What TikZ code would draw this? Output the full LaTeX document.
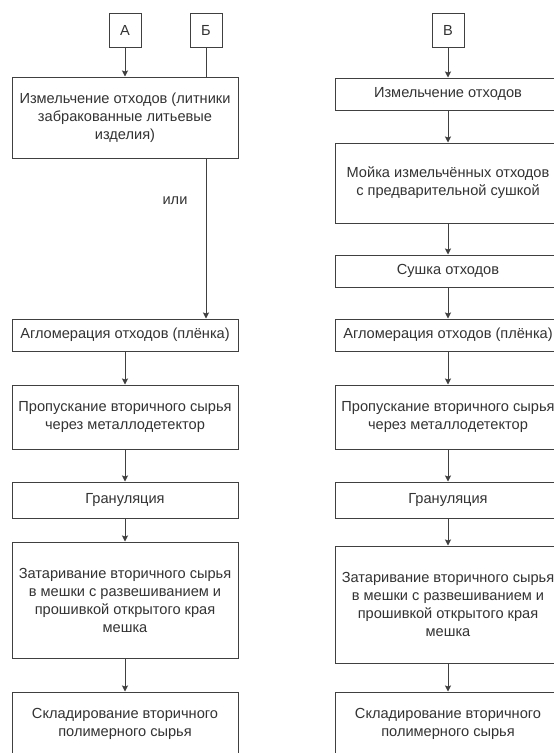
\documentclass[tikz,border=0pt]{standalone}
\usepackage{fontspec}
\setmainfont{Liberation Sans}
\usetikzlibrary{arrows.meta}
\pgfdeclarelayer{bg}
\pgfdeclarelayer{edges}
\pgfsetlayers{bg,edges,main}
\begin{document}
\begin{tikzpicture}[x=1pt,y=-1pt,
			box/.style={draw=black!75,line width=1pt,fill=white,text=black!80,align=center,minimum width=226pt,inner sep=0pt,font=\fontsize{14.6}{18}\selectfont},
			letter/.style={box,minimum width=32pt,minimum height=34pt},
			arr/.style={draw=black!75,line width=1pt,-{Stealth[length=6pt,width=6pt,inset=1pt]}}]
			\useasboundingbox (0,0) rectangle (554,753);
			\begin{pgfonlayer}{bg}
			\fill[white] (0,0) rectangle (554,753);
			\end{pgfonlayer}
			\clip (0,0) rectangle (554,753);
			
			% left column
			\node[letter] (a) at (125,30) {А};
			\node[letter] (b) at (206,30) {Б};
			\node[box,minimum height=81pt] (l1) at (125,117.5) {Измельчение отходов (литники\\забракованные литьевые\\изделия)};
			\node[box,minimum height=32pt] (l2) at (125,335) {Агломерация отходов (плёнка)};
			\node[box,minimum height=64pt] (l3) at (125,417) {Пропускание вторичного сырья\\через металлодетектор};
			\node[box,minimum height=36pt] (l4) at (125,500) {Грануляция};
			\node[box,minimum height=116pt] (l5) at (125,600) {Затаривание вторичного сырья\\в мешки с развешиванием и\\прошивкой открытого края\\мешка};
			\node[box,minimum height=64pt] (l6) at (125,724) {Складирование вторичного\\полимерного сырья};
			\node[text=black!80,font=\fontsize{14.6}{18}\selectfont] (ili) at (175,201) {или};
			
			% right column
			\node[letter] (v) at (448,30) {В};
			\node[box,minimum height=32pt] (r1) at (448,94) {Измельчение отходов};
			\node[box,minimum height=80pt] (r2) at (448,183) {Мойка измельчённых отходов\\с предварительной сушкой};
			\node[box,minimum height=32pt] (r3) at (448,271) {Сушка отходов};
			\node[box,minimum height=32pt] (r4) at (448,335) {Агломерация отходов (плёнка)};
			\node[box,minimum height=64pt] (r5) at (448,417) {Пропускание вторичного сырья\\через металлодетектор};
			\node[box,minimum height=36pt] (r6) at (448,500) {Грануляция};
			\node[box,minimum height=117pt] (r7) at (448,604.5) {Затаривание вторичного сырья\\в мешки с развешиванием и\\прошивкой открытого края\\мешка};
			\node[box,minimum height=64pt] (r8) at (448,724) {Складирование вторичного\\полимерного сырья};
			
			\begin{pgfonlayer}{edges}
			\draw[arr] (a) -- (l1);
			\draw[arr] (b.south) -- (b.south |- l2.north);
			\draw[arr] (l2) -- (l3);
			\draw[arr] (l3) -- (l4);
			\draw[arr] (l4) -- (l5);
			\draw[arr] (l5) -- (l6);
			\draw[arr] (v) -- (r1);
			\draw[arr] (r1) -- (r2);
			\draw[arr] (r2) -- (r3);
			\draw[arr] (r3) -- (r4);
			\draw[arr] (r4) -- (r5);
			\draw[arr] (r5) -- (r6);
			\draw[arr] (r6) -- (r7);
			\draw[arr] (r7) -- (r8);
			\end{pgfonlayer}
\end{tikzpicture}
\end{document}
